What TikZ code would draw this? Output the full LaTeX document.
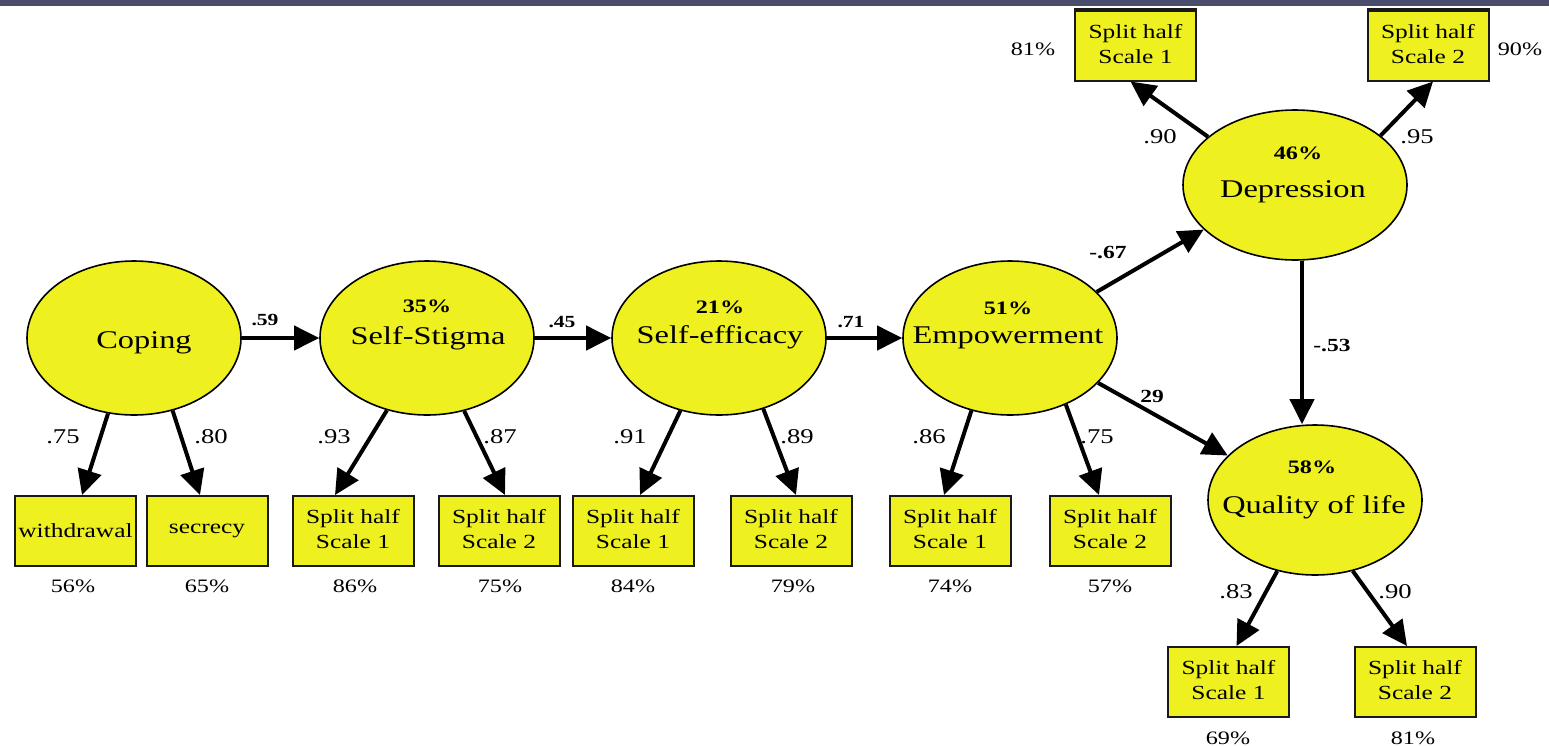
\documentclass[tikz,border=0pt]{standalone}
\usepackage{fontspec}
\setmainfont{Liberation Serif}
\usepackage{graphicx}
\usetikzlibrary{arrows.meta,shapes.geometric,calc}
\definecolor{yel}{RGB}{238,240,32}
\definecolor{band}{RGB}{74,76,108}
\newcommand\sx[1]{\scalebox{1.27}[1]{#1}}
\begin{document}
\begin{tikzpicture}[x=1pt,y=-1pt,
  lat/.style={ellipse, draw=black, line width=1.6pt, fill=yel, minimum width=214pt, minimum height=154pt, inner sep=0pt},
  obs/.style={rectangle, draw=black!90, line width=2pt, fill=yel, minimum width=121pt, minimum height=70pt, inner sep=0pt, align=center, font=\fontsize{20}{25}\selectfont},
  latname/.style={font=\fontsize{25.5}{27}\selectfont, inner sep=0pt, anchor=base},
  rsq/.style={font=\bfseries\fontsize{19}{21}\selectfont, inner sep=0pt, anchor=base},
  ld/.style={font=\fontsize{21}{23}\selectfont, inner sep=0pt, anchor=base},
  pct/.style={font=\fontsize{19}{21}\selectfont, inner sep=0pt, anchor=base},
  pb/.style={font=\bfseries\fontsize{17}{19}\selectfont, inner sep=0pt, anchor=base},
  pbb/.style={font=\bfseries\fontsize{18.5}{20}\selectfont, inner sep=0pt, anchor=base},
  arr/.style={line width=4pt, -{Triangle[length=25pt,width=24pt]}}
]
\useasboundingbox (0,0) rectangle (1549,745);
\fill[band] (0,0) rectangle (1549,6);

% latent variables
\node[lat] (coping) at (134,338) {};
\node[lat] (ss) at (427,338) {};
\node[lat] (se) at (719,338) {};
\node[lat] (emp) at (1010,338) {};
\node[lat, minimum width=224pt, minimum height=150pt] (dep) at (1295,185) {};
\node[lat, minimum height=150pt] (qol) at (1315,500) {};

\node[latname] (copingt) at (144,348) {\sx{Coping}};
\node[rsq] (ssp) at (427,312) {\sx{35\%}};
\node[latname] (sst) at (428,344) {\sx{Self-Stigma}};
\node[rsq] (sep) at (720,313) {\sx{21\%}};
\node[latname] (set) at (720,343) {\sx{Self-efficacy}};
\node[rsq] (empp) at (1008,314) {\sx{51\%}};
\node[latname] (empt) at (1008,343) {\sx{Empowerment}};
\node[rsq] (depp) at (1298,159) {\sx{46\%}};
\node[latname] (dept) at (1293,197) {\sx{Depression}};
\node[rsq] (qolp) at (1312,473) {\sx{58\%}};
\node[latname] (qolt) at (1314,513) {\sx{Quality of life}};

% observed variables
\node[obs] (w) at (75.5,531) {\sx{withdrawal}};
\node[obs] (sec) at (207,531) {\sx{secrecy}};
\node[obs] (ss1) at (353,531) {\sx{\begin{tabular}{@{}c@{}}Split half\\Scale 1\end{tabular}}};
\node[obs] (ss2) at (499,531) {\sx{\begin{tabular}{@{}c@{}}Split half\\Scale 2\end{tabular}}};
\node[obs] (se1) at (633,531) {\sx{\begin{tabular}{@{}c@{}}Split half\\Scale 1\end{tabular}}};
\node[obs] (se2) at (791,531) {\sx{\begin{tabular}{@{}c@{}}Split half\\Scale 2\end{tabular}}};
\node[obs] (emp1) at (950,531) {\sx{\begin{tabular}{@{}c@{}}Split half\\Scale 1\end{tabular}}};
\node[obs] (emp2) at (1110,531) {\sx{\begin{tabular}{@{}c@{}}Split half\\Scale 2\end{tabular}}};
\node[obs] (dep1) at (1135.5,45.5) {\sx{\begin{tabular}{@{}c@{}}Split half\\Scale 1\end{tabular}}};
\node[obs] (dep2) at (1428,45.5) {\sx{\begin{tabular}{@{}c@{}}Split half\\Scale 2\end{tabular}}};
\node[obs] (qol1) at (1228.5,682) {\sx{\begin{tabular}{@{}c@{}}Split half\\Scale 1\end{tabular}}};
\node[obs] (qol2) at (1415,682) {\sx{\begin{tabular}{@{}c@{}}Split half\\Scale 2\end{tabular}}};
\draw[line width=3.5pt, black!90] (dep1.north west) -- (dep1.north east);
\draw[line width=3.5pt, black!90] (dep2.north west) -- (dep2.north east);

% percentages of observed variables
\node[pct] (pw) at (73,592) {\sx{56\%}};
\node[pct] (psec) at (207,592) {\sx{65\%}};
\node[pct] (pss1) at (355,592) {\sx{86\%}};
\node[pct] (pss2) at (500,592) {\sx{75\%}};
\node[pct] (pse1) at (633,592) {\sx{84\%}};
\node[pct] (pse2) at (793,592) {\sx{79\%}};
\node[pct] (pemp1) at (950,592) {\sx{74\%}};
\node[pct] (pemp2) at (1110,592) {\sx{57\%}};
\node[pct] (pdep1) at (1033,55) {\sx{81\%}};
\node[pct] (pdep2) at (1520,55) {\sx{90\%}};
\node[pct] (pqol1) at (1228,744) {\sx{69\%}};
\node[pct] (pqol2) at (1413,744) {\sx{81\%}};

% structural paths
\draw[arr] (coping.east) -- (ss.west);
\draw[arr] (ss.east) -- (se.west);
\draw[arr] (se.east) -- (emp.west);
\draw[arr] (emp.28) -- (dep.206);
\draw[arr] (emp.333) -- (qol.153);
\draw[arr] ([xshift=7pt]dep.south) -- ([xshift=-13pt]qol.north);

\node[pb] (l59) at (265,325) {\sx{.59}};
\node[pb] (l45) at (562,327) {\sx{.45}};
\node[pb] (l71) at (851,327) {\sx{.71}};
\node[pbb] (l67) at (1108,258) {\sx{-.67}};
\node[pbb] (l29) at (1152,402) {\sx{29}};
\node[pbb] (l53) at (1332,351) {\sx{-.53}};

% measurement paths
\draw[arr] (coping.251) -- ([xshift=6.5pt]w.north);
\draw[arr] (coping.298) -- ([xshift=-7pt]sec.north);
\draw[arr] (ss.241) -- ([xshift=-18pt]ss1.north);
\draw[arr] (ss.297) -- ([xshift=6pt]ss2.north);
\draw[arr] (se.242) -- ([xshift=7pt]se1.north);
\draw[arr] (se.302) -- ([xshift=5pt]se2.north);
\draw[arr] (emp.242) -- ([xshift=-6pt]emp1.north);
\draw[arr] (emp.310) -- ([xshift=-11pt]emp2.north);
\draw[arr] (qol.242) -- ([xshift=8pt]qol1.north);
\draw[arr] (qol.298) -- ([xshift=-8pt]qol2.north);
\draw[arr] (dep.151) -- ([xshift=-5pt]dep1.south);
\draw[arr] (dep.30) -- ([xshift=5pt]dep2.south);

\node[ld] (a75) at (63,443) {\sx{.75}};
\node[ld] (a80) at (211,443) {\sx{.80}};
\node[ld] (a93) at (334,443) {\sx{.93}};
\node[ld] (a87) at (500,443) {\sx{.87}};
\node[ld] (a91) at (630,443) {\sx{.91}};
\node[ld] (a89) at (797,443) {\sx{.89}};
\node[ld] (a86) at (929,443) {\sx{.86}};
\node[ld] (a75b) at (1097,443) {\sx{.75}};
\node[ld] (a83) at (1236,598) {\sx{.83}};
\node[ld] (a90b) at (1395,598) {\sx{.90}};
\node[ld] (a90) at (1160,143) {\sx{.90}};
\node[ld] (a95) at (1417,143) {\sx{.95}};
\end{tikzpicture}
\end{document}
